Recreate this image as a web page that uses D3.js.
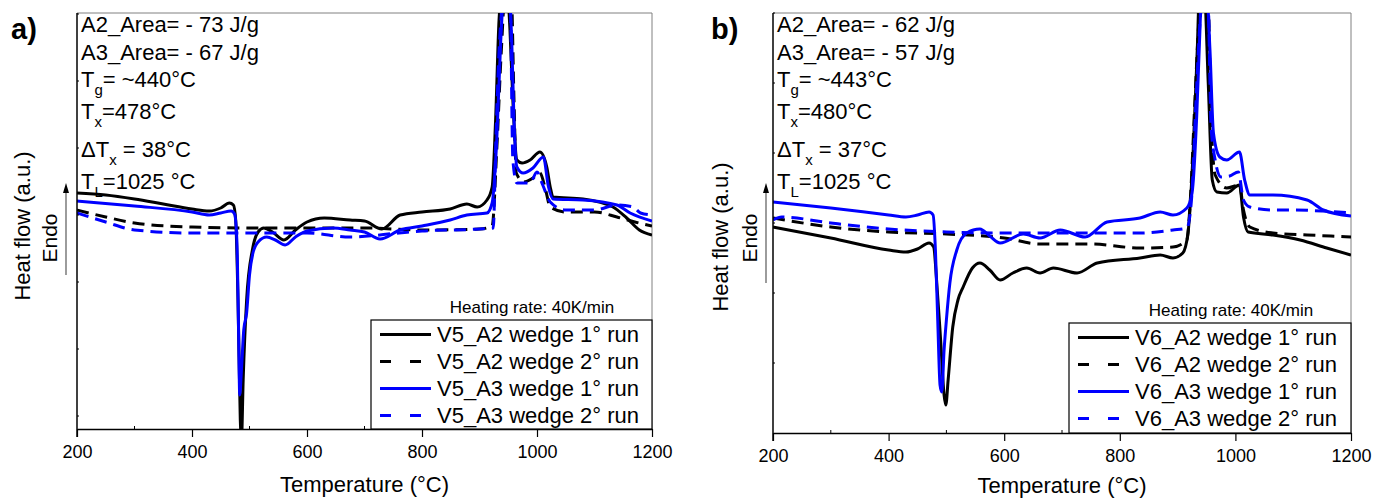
<!DOCTYPE html>
<html><head><meta charset="utf-8">
<script src="https://cdn.jsdelivr.net/npm/d3@7"></script>
<style>body{margin:0;background:#fff}svg{display:block;font-family:"Liberation Sans",Arial,sans-serif}</style>
</head><body><svg id="c" width="1373" height="499"></svg>
<script>
// ---------- data ----------
const xTicks = [200, 400, 600, 800, 1000, 1200];
const xMinorTicks = [300, 500, 700, 900, 1100];
const yTicksA = [13, 80, 147, 214, 281, 348, 415];
const yTicksB = [70, 140, 210, 280, 350, 420];
const xTitle = "Temperature (°C)";
const yTitle = "Heat flow (a.u.)";
const endoLabel = "Endo";
const rateLabel = "Heating rate: 40K/min";

const legendA = ["V5_A2 wedge 1° run", "V5_A2 wedge 2° run", "V5_A3 wedge 1° run", "V5_A3 wedge 2° run"];
const legendB = ["V6_A2 wedge 1° run", "V6_A2 wedge 2° run", "V6_A3 wedge 1° run", "V6_A3 wedge 2° run"];

const notesA = [["A2_Area= - 73 J/g"], ["A3_Area= - 67 J/g"], ["T", "g", "= ~440°C"], ["T", "x", "=478°C"], ["ΔT", "x", " = 38°C"], ["T", "L", "=1025 °C"]];
const notesB = [["A2_Area= - 62 J/g"], ["A3_Area= - 57 J/g"], ["T", "g", "= ~443°C"], ["T", "x", "=480°C"], ["ΔT", "x", " = 37°C"], ["T", "L", "=1025 °C"]];

// Panel a – V5
const aA2r1T = [200,250,300,350,400,430,450,465,472,476,480,484,486,489,495,505,515,525,540,560,580,600,630,675,700,730,762,800,849,878,896,913,922,928,934,940,948,953,958,965,974,988,1005,1017,1023,1028,1080,1132,1156,1178,1200];
const aA2r1Q = [236,234,230,225,220,218,221,226,224,209,129,9,-11,49,129,179,197,201,197,189,199,207,211,209,208,200,214,217,220,225,222,229,242,309,409,439,439,399,329,269,266,269,277,262,242,232,230,222,211,199,194];
const aA2r2T = [200,250,300,400,500,600,700,800,900,922,930,938,945,955,960,964,977,993,1005,1015,1023,1050,1100,1139,1170,1200];
const aA2r2Q = [219,212,206,202,201,201,201,199,200,203,279,379,439,439,329,256,247,251,256,239,222,217,217,212,207,203];
const aA3r1T = [200,300,400,430,450,468,474,478,481,483,486,490,495,500,506,515,530,545,562,580,600,645,675,700,727,762,800,849,878,913,922,930,937,943,950,956,960,965,976,993,1011,1020,1028,1080,1139,1162,1200];
const aA3r1Q = [228,223,217,214,216,218,215,189,99,34,59,99,116,154,176,187,192,189,184,192,198,201,199,197,190,199,203,209,214,216,226,289,389,439,439,389,309,262,256,261,272,242,230,229,224,216,208];
const aA3r2T = [200,250,300,400,500,600,675,760,800,900,924,928,935,945,953,958,965,988,1000,1010,1023,1050,1100,1139,1167,1180,1200];
const aA3r2Q = [216,207,199,196,196,196,192,196,198,200,201,279,389,439,439,269,246,246,257,244,227,219,219,224,222,216,214];

// Panel b – V6
const bA2r1T = [200,300,400,430,450,470,478,483,490,496,499,503,511,520,529,545,558,575,593,615,639,662,685,726,761,835,870,892,909,918,927,934,938,946,953,960,968,985,1007,1014,1022,1065,1112,1158,1200];
const bA2r1Q = [206,195,183,181,184,190,186,153,93,38,28,53,106,133,146,165,170,163,153,160,165,160,165,160,170,175,178,175,180,200,283,383,443,443,350,253,241,240,248,216,201,198,193,185,178];
const bA2r2T = [200,300,400,500,600,662,750,835,892,916,922,930,937,944,952,958,965,985,1007,1014,1025,1065,1124,1165,1200];
const bA2r2Q = [215,206,201,199,195,189,189,185,186,193,233,333,413,443,443,313,258,245,248,223,206,200,198,197,196];
const bA3r1T = [200,300,400,430,450,470,477,481,485,489,492,496,500,506,518,535,558,575,593,633,662,697,740,778,835,870,892,916,925,933,938,942,950,956,962,973,985,1007,1016,1025,1065,1124,1152,1200];
const bA3r1Q = [231,225,218,216,218,221,218,183,113,48,41,83,113,150,183,200,204,197,190,199,195,203,196,211,215,221,218,225,240,316,393,443,443,383,300,276,273,281,253,238,238,233,223,217];
const bA3r2T = [200,215,300,400,500,600,662,750,835,892,916,924,932,939,946,952,958,965,975,990,1005,1014,1025,1065,1100,1150,1200];
const bA3r2Q = [213,216,210,204,201,200,200,200,200,203,205,233,333,413,443,443,306,273,256,257,261,233,226,223,223,222,220];

// ---------- drawing ----------
const svg = d3.select("#c");
const FONT = '"Liberation Sans", Arial, sans-serif';

function drawPanel(p) {
  const x = d3.scaleLinear().domain([200, 1200]).range([p.l, p.r]);
  const y = d3.scaleLinear().domain([0, p.ymax]).range([p.b, p.t]);
  const g = svg.append("g");

  g.append("clipPath").attr("id", "clip" + p.id)
    .append("rect").attr("x", p.l).attr("y", p.t).attr("width", p.r - p.l).attr("height", p.b - p.t);

  // frame (top/right grey)
  g.append("line").attr("x1", p.l).attr("x2", p.r).attr("y1", p.t).attr("y2", p.t).attr("stroke", "#808080").attr("stroke-width", 1);
  g.append("line").attr("x1", p.r).attr("x2", p.r).attr("y1", p.t).attr("y2", p.b).attr("stroke", "#808080").attr("stroke-width", 1);

  // curves
  const line = d3.line().x(d => x(d[0])).y(d => y(d[1])).curve(d3.curveMonotoneX);
  const cg = g.append("g").attr("clip-path", `url(#clip${p.id})`);
  p.series.forEach(s => {
    const pts = s.T.map((t, i) => [t, s.Q[i]]);
    cg.append("path").datum(pts).attr("d", line)
      .attr("fill", "none").attr("stroke", s.color).attr("stroke-width", 3)
      .attr("stroke-dasharray", s.dash ? "12,7" : null).attr("stroke-linejoin", "round");
  });

  // bottom axis
  const ax = g.append("g").attr("transform", `translate(0,${p.b})`)
    .call(d3.axisBottom(x).tickValues(xTicks).tickFormat(d3.format("d")).tickSizeInner(8).tickSizeOuter(0).tickPadding(8));
  ax.select(".domain").attr("stroke", "#000").attr("stroke-width", 1.5);
  ax.selectAll(".tick line").attr("stroke", "#000").attr("stroke-width", 1.2);
  ax.selectAll(".tick text").attr("font-size", 18).attr("font-family", FONT).attr("fill", "#000");
  g.selectAll(".xminor").data(xMinorTicks).enter().append("line")
    .attr("x1", d => x(d)).attr("x2", d => x(d)).attr("y1", p.b).attr("y2", p.b - 3).attr("stroke", "#000").attr("stroke-width", 1);

  // left axis
  g.append("line").attr("x1", p.l).attr("x2", p.l).attr("y1", p.t).attr("y2", p.b + 8).attr("stroke", "#000").attr("stroke-width", 1.5);
  g.selectAll(".yminor").data(p.yTicks).enter().append("line")
    .attr("x1", p.l).attr("x2", p.l + 2).attr("y1", d => y(d)).attr("y2", d => y(d)).attr("stroke", "#000").attr("stroke-width", 1);

  // titles
  g.append("text").attr("x", (p.l + p.r) / 2).attr("y", p.xTitleY).attr("text-anchor", "middle")
    .attr("font-size", 22).attr("font-family", FONT).text(xTitle);
  g.append("text").attr("transform", `translate(${p.yTitleX},${p.yTitleY}) rotate(-90)`).attr("text-anchor", "middle")
    .attr("dy", "0.35em").attr("font-size", 22).attr("font-family", FONT).text(yTitle);
  g.append("text").attr("transform", `translate(${p.endoX},${238}) rotate(-90)`).attr("text-anchor", "middle")
    .attr("dy", "0.35em").attr("font-size", 21).attr("font-family", FONT).text(endoLabel);
  // arrow
  g.append("line").attr("x1", p.arrowX).attr("x2", p.arrowX).attr("y1", p.arrowY0).attr("y2", 192)
    .attr("stroke", "#666").attr("stroke-width", 1.3);
  g.append("path").attr("d", `M${p.arrowX - 3},193 L${p.arrowX + 3},193 L${p.arrowX},183 Z`).attr("fill", "#000");

  // panel label
  g.append("text").attr("x", p.labelX).attr("y", 39).attr("font-size", 29).attr("font-weight", "bold")
    .attr("font-family", FONT).text(p.label);

  // notes
  const noteY = [32, 60, 87, 119, 157, 189];
  p.notes.forEach((n, i) => {
    const t = g.append("text").attr("x", p.l + 4).attr("y", noteY[i]).attr("font-size", 22).attr("font-family", FONT);
    t.append("tspan").text(n[0]);
    if (n.length > 1) {
      t.append("tspan").attr("font-size", 15).attr("dy", 8).text(n[1]);
      t.append("tspan").attr("dy", -8).text(n[2]);
    }
  });

  // heating rate
  g.append("text").attr("x", p.r - 120).attr("y", p.legTop - 7).attr("text-anchor", "middle")
    .attr("font-size", 17).attr("font-family", FONT).text(rateLabel);

  // legend
  const lw = p.r - p.legLeft;
  g.append("rect").attr("x", p.legLeft).attr("y", p.legTop).attr("width", lw).attr("height", p.b - p.legTop)
    .attr("fill", "#fff").attr("stroke", "#000").attr("stroke-width", 1.2);
  p.series.forEach((s, i) => {
    const ry = p.legTop + 14.5 + i * 27;
    g.append("line").attr("x1", p.legLeft + 9).attr("x2", p.legLeft + 60).attr("y1", ry).attr("y2", ry)
      .attr("stroke", s.color).attr("stroke-width", 3).attr("stroke-dasharray", s.dash ? "11,19" : null);
    g.append("text").attr("x", p.legLeft + 66).attr("y", ry).attr("dy", "0.36em")
      .attr("font-size", 22).attr("font-family", FONT).text(p.legend[i]);
  });
}

drawPanel({
  id: "a", label: "a)", labelX: 11, l: 77, r: 652, t: 13, b: 429, ymax: 416, yTicks: yTicksA,
  yTitleX: 22, yTitleY: 226, endoX: 50, arrowX: 66, arrowY0: 275, xTitleY: 492,
  legLeft: 371, legTop: 320, notes: notesA, legend: legendA,
  series: [
    {T: aA2r1T, Q: aA2r1Q, color: "#000", dash: false},
    {T: aA2r2T, Q: aA2r2Q, color: "#000", dash: true},
    {T: aA3r1T, Q: aA3r1Q, color: "#0000ff", dash: false},
    {T: aA3r2T, Q: aA3r2Q, color: "#0000ff", dash: true}
  ]
});
drawPanel({
  id: "b", label: "b)", labelX: 711, l: 773, r: 1351, t: 13, b: 433, ymax: 420, yTicks: yTicksB,
  yTitleX: 720, yTitleY: 237, endoX: 750, arrowX: 766, arrowY0: 283, xTitleY: 493,
  legLeft: 1069, legTop: 323, notes: notesB, legend: legendB,
  series: [
    {T: bA2r1T, Q: bA2r1Q, color: "#000", dash: false},
    {T: bA2r2T, Q: bA2r2Q, color: "#000", dash: true},
    {T: bA3r1T, Q: bA3r1Q, color: "#0000ff", dash: false},
    {T: bA3r2T, Q: bA3r2Q, color: "#0000ff", dash: true}
  ]
});
</script></body></html>
